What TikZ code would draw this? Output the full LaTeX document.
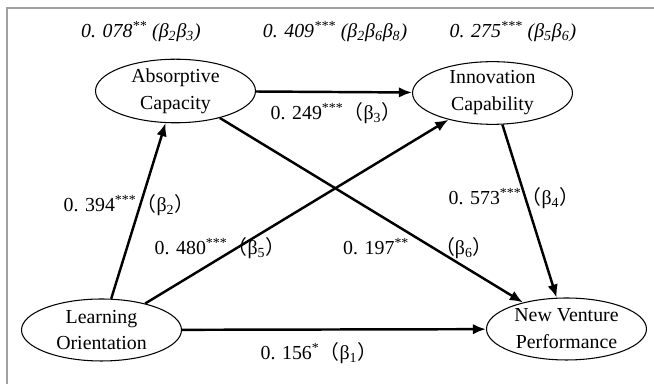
\documentclass[tikz,border=0pt]{standalone}
\usepackage{fontspec}
\setmainfont{Liberation Serif}
\newfontfamily\cjk{Noto Sans CJK SC}
\usepackage{tikz}
\usetikzlibrary{shapes.geometric, arrows.meta}

\newcommand{\lpar}{{\cjk （}}
\newcommand{\rpar}{{\cjk ）}}
\newcommand{\sig}[1]{\textsuperscript{#1}}
\newcommand{\bsub}[1]{β\textsubscript{#1}}

\begin{document}
\begin{tikzpicture}[
    x=0.02cm, y=-0.02cm,
    font=\fontsize{11.3}{15.3}\selectfont,
    construct/.style={ellipse, draw, line width=0.6pt, minimum width=3.2cm,
        minimum height=1.24cm, inner sep=0pt, align=center},
    effect/.style={line width=1.4pt, -{Latex[length=7.5pt,width=6pt]}},
    coef/.style={font=\fontsize{11.3}{13}\selectfont, inner sep=1pt},
    indirect/.style={font=\fontsize{11.3}{13}\selectfont\itshape, inner sep=1pt}
]
% Define colors
\definecolor{framegray}{RGB}{160,160,160}

\useasboundingbox (0,0) rectangle (654,384);

% Frame (top and left only)
\draw[framegray, line width=0.7pt] (7,384) -- (7,8) -- (654,8);

% Constructs
\node[construct] (absorb) at (175.5,91) {Absorptive\\Capacity};
\node[construct] (innov) at (492.5,93) {Innovation\\Capability};
\node[construct] (learn) at (101.5,330) {Learning\\Orientation};
\node[construct] (perf) at (566.5,329) {New Venture\\Performance};

% Direct effects
\draw[effect] (absorb) -- (innov);
\draw[effect] (learn) -- (absorb);
\draw[effect] (learn) -- (innov);
\draw[effect] (absorb) -- (perf);
\draw[effect] (innov) -- (perf);
\draw[effect] (learn) -- (perf);

% Path coefficients
\node[coef] (b3) at (336,113) {0. 249\sig{***}\lpar\bsub{3}\rpar};
\node[coef] (b2) at (129,205) {0. 394\sig{***}\lpar\bsub{2}\rpar};
\node[coef] (b5) at (220,248) {0. 480\sig{***}\lpar\bsub{5}\rpar};
\node[coef] (b6) at (418,248) {0. 197\sig{**}\hspace{1.3em}\lpar\bsub{6}\rpar};
\node[coef] (b4) at (514,198) {0. 573\sig{***}\lpar\bsub{4}\rpar};
\node[coef] (b1) at (319,353) {0. 156\sig{*}\lpar\bsub{1}\rpar};

% Indirect effects
\node[indirect] (ind1) at (141,32) {0. 078\sig{**} (\bsub{2}\bsub{3})};
\node[indirect] (ind2) at (335,32) {0. 409\sig{***} (\bsub{2}\bsub{6}\bsub{8})};
\node[indirect] (ind3) at (513,32) {0. 275\sig{***} (\bsub{5}\bsub{6})};

\end{tikzpicture}
\end{document}
